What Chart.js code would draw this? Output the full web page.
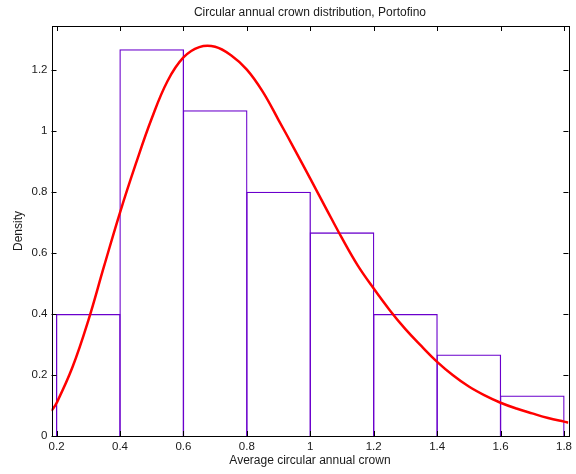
<!DOCTYPE html>
<html>
<head>
<meta charset="utf-8">
<script src="https://cdn.jsdelivr.net/npm/chart.js@4.4.1/dist/chart.umd.min.js"></script>
<style>
  html, body { margin: 0; padding: 0; background: #fff; }
  canvas { display: block; }
</style>
</head>
<body>
<canvas id="c" width="576" height="474"></canvas>
<script>
// ---- data ----
const binEdges = [0.2, 0.4, 0.6, 0.8, 1.0, 1.2, 1.4, 1.6, 1.8];
const binDensity = [0.4, 1.267, 1.067, 0.8, 0.667, 0.4, 0.267, 0.133];

const curveX = [0.184, 0.2, 0.25, 0.3, 0.35, 0.4, 0.45, 0.5, 0.55, 0.6, 0.65, 0.7, 0.75, 0.8, 0.85, 0.9, 0.95, 1.0, 1.05, 1.1, 1.15, 1.2, 1.25, 1.3, 1.35, 1.4, 1.45, 1.5, 1.55, 1.6, 1.65, 1.7, 1.75, 1.8, 1.814];
const curveY = [0.082, 0.108, 0.225, 0.378, 0.557, 0.732, 0.892, 1.040, 1.163, 1.240, 1.274, 1.275, 1.247, 1.200, 1.128, 1.035, 0.940, 0.843, 0.745, 0.648, 0.558, 0.483, 0.413, 0.350, 0.295, 0.243, 0.199, 0.162, 0.133, 0.109, 0.090, 0.074, 0.059, 0.047, 0.044];

const xTicks = [0.2, 0.4, 0.6, 0.8, 1, 1.2, 1.4, 1.6, 1.8];
const yTicks = [0, 0.2, 0.4, 0.6, 0.8, 1, 1.2];
const xRange = [0.184, 1.814];
const yRange = [0, 1.343];

const titleText = 'Circular annual crown distribution, Portofino';
const xLabel = 'Average circular annual crown';
const yLabel = 'Density';

// ---- build datasets ----
const barData = binDensity.map((d, i) => ({ x: (binEdges[i] + binEdges[i + 1]) / 2, y: d }));
const curveData = curveX.map((x, i) => ({ x: x, y: curveY[i] }));

const FONT = '"Liberation Sans", Arial, Helvetica, sans-serif';
const TXT = '#1a1a1a';
const BAR_BW = 1.3;

const frameTicks = {
  id: 'frameTicks',
  afterDraw(chart) {
    const { ctx, chartArea: { left, right, top, bottom }, scales: { x, y } } = chart;
    ctx.save();
    ctx.strokeStyle = '#000';
    ctx.lineWidth = 1;
    ctx.beginPath();
    xTicks.forEach(v => {
      const px = Math.round(x.getPixelForValue(v)) + 0.5;
      ctx.moveTo(px, bottom); ctx.lineTo(px, bottom - 5);
      ctx.moveTo(px, top); ctx.lineTo(px, top + 5);
    });
    yTicks.forEach(v => {
      const py = Math.round(y.getPixelForValue(v)) + 0.5;
      ctx.moveTo(left, py); ctx.lineTo(left + 5, py);
      ctx.moveTo(right, py); ctx.lineTo(right - 5, py);
    });
    ctx.stroke();
    ctx.strokeRect(Math.round(left) + 0.5, Math.round(top) + 0.5, Math.round(right - left), Math.round(bottom - top));
    // title centred over the plot area
    ctx.fillStyle = TXT;
    ctx.font = '12px ' + FONT;
    ctx.textAlign = 'center';
    ctx.textBaseline = 'middle';
    ctx.fillText(titleText, (left + right) / 2, 12.5);
    ctx.restore();
  }
};

new Chart(document.getElementById('c'), {
  type: 'bar',
  data: {
    datasets: [
      {
        type: 'line',
        data: curveData,
        borderColor: '#ff0000',
        borderWidth: 2.5,
        pointRadius: 0,
        fill: false,
        tension: 0.4,
        order: 0
      },
      {
        type: 'bar',
        data: barData,
        backgroundColor: 'rgba(255,255,255,0)',
        borderColor: '#6a00cc',
        borderWidth: BAR_BW,
        borderSkipped: 'start',
        barPercentage: 1.02,
        categoryPercentage: 1,
        order: 1
      }
    ]
  },
  options: {
    responsive: false,
    animation: false,
    devicePixelRatio: 1,
    layout: { padding: { left: 0, right: 3.5, top: 26, bottom: 0 } },
    plugins: {
      legend: { display: false },
      tooltip: { enabled: false },
      title: { display: false }
    },
    scales: {
      x: {
        type: 'linear',
        min: xRange[0],
        max: xRange[1],
        offset: false,
        grid: { display: false, drawTicks: false, offset: false },
        border: { display: false },
        afterBuildTicks: s => { s.ticks = xTicks.map(v => ({ value: v })); },
        afterFit: s => { s.height = 38; },
        ticks: {
          color: TXT,
          padding: 4,
          maxRotation: 0,
          autoSkip: false,
          font: { family: FONT, size: 11.5 },
          callback: v => String(v)
        },
        title: {
          display: true,
          text: xLabel,
          color: TXT,
          font: { family: FONT, size: 12 },
          padding: { top: 0, bottom: 6 }
        }
      },
      y: {
        type: 'linear',
        min: yRange[0],
        max: yRange[1],
        grid: { display: false, drawTicks: false },
        border: { display: false },
        afterBuildTicks: s => { s.ticks = yTicks.map(v => ({ value: v })); },
        afterFit: s => { s.width = 51.5; },
        ticks: {
          color: TXT,
          padding: 4,
          autoSkip: false,
          font: { family: FONT, size: 11.5 },
          callback: v => String(v)
        },
        title: {
          display: true,
          text: yLabel,
          color: TXT,
          font: { family: FONT, size: 12 },
          padding: { top: 11, bottom: 0 }
        }
      }
    }
  },
  plugins: [frameTicks]
});
</script>
</body>
</html>
